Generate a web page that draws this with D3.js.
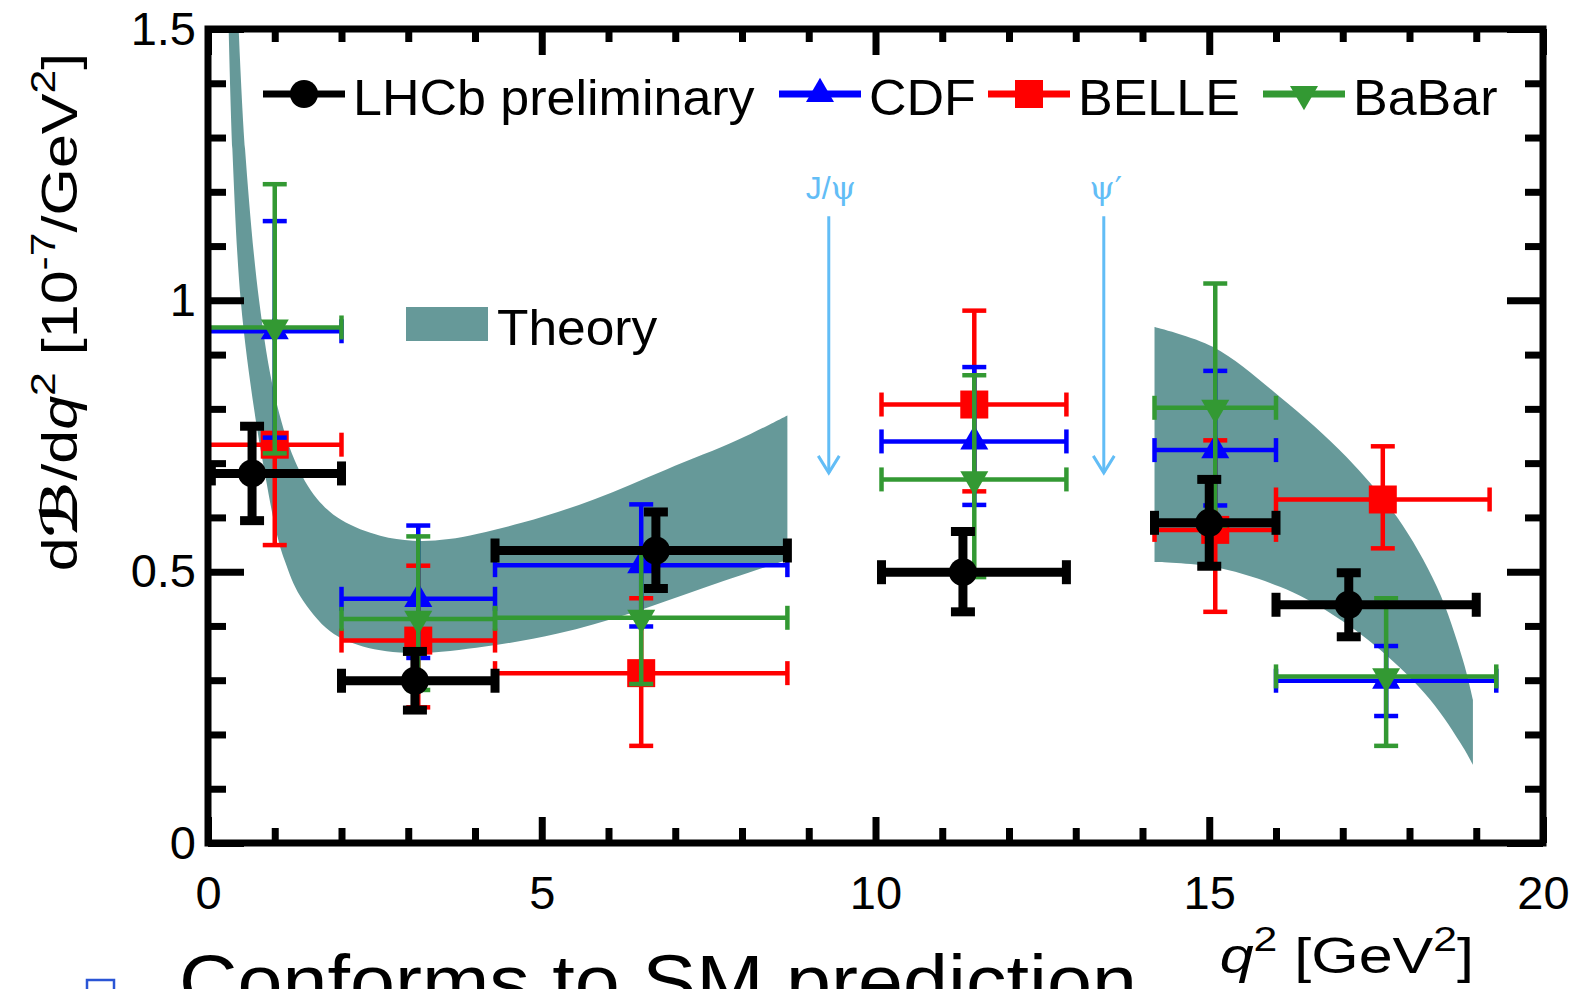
<!DOCTYPE html>
<html>
<head>
<meta charset="utf-8">
<script src="https://cdn.jsdelivr.net/npm/d3@7"></script>
<style>
  body { margin: 0; background: #fff; }
  svg text { font-family: "Liberation Sans", Arial, Helvetica, sans-serif; }
</style>
</head>
<body>
<div id="chart"></div>
<script>
// dB/dq^2 [1e-7/GeV^2] per q^2 bin

// LHCb preliminary
const lhcbQ     = [0.66, 3.10, 6.71, 11.31, 15.00, 17.09];
const lhcbQLow  = [0.05, 2.00, 4.30, 10.09, 14.18, 16.00];
const lhcbQHigh = [2.00, 4.30, 8.68, 12.86, 16.00, 19.00];
const lhcbValue = [0.681, 0.299, 0.539, 0.499, 0.590, 0.439];
const lhcbErrUp = [0.087, 0.054, 0.071, 0.075, 0.080, 0.059];
const lhcbErrDn = [0.087, 0.054, 0.070, 0.073, 0.080, 0.059];

// CDF
const cdfQ     = [1.00, 3.15, 6.49, 11.48, 15.09, 17.65];
const cdfQLow  = [0.00, 2.00, 4.30, 10.09, 14.18, 16.00];
const cdfQHigh = [2.00, 4.30, 8.68, 12.86, 16.00, 19.30];
const cdfValue = [0.943, 0.450, 0.512, 0.740, 0.724, 0.299];
const cdfErrUp = [0.203, 0.135, 0.112, 0.137, 0.146, 0.064];
const cdfErrDn = [0.196, 0.109, 0.113, 0.117, 0.102, 0.065];

// BELLE
const belleQ     = [1.00, 3.15, 6.49, 11.48, 15.09, 17.60];
const belleQLow  = [0.00, 2.00, 4.30, 10.09, 14.18, 16.00];
const belleQHigh = [2.00, 4.30, 8.68, 12.86, 16.00, 19.20];
const belleValue = [0.734, 0.373, 0.313, 0.808, 0.577, 0.633];
const belleErrUp = [0.012, 0.138, 0.138, 0.173, 0.165, 0.098];
const belleErrDn = [0.185, 0.123, 0.134, 0.160, 0.151, 0.090];

// BaBar
const babarQ     = [1.00, 3.15, 6.49, 11.48, 15.09, 17.65];
const babarQLow  = [0.00, 2.00, 4.30, 10.09, 14.18, 16.00];
const babarQHigh = [2.00, 4.30, 8.68, 12.86, 16.00, 19.30];
const babarValue = [0.950, 0.413, 0.415, 0.670, 0.802, 0.307];
const babarErrUp = [0.264, 0.152, 0.125, 0.192, 0.229, 0.144];
const babarErrDn = [0.232, 0.131, 0.122, 0.180, 0.217, 0.128];

// SM theory band, low q^2 region (upper and lower edges)
const lowBandUpperQ = [0.46, 0.555, 0.765, 1.00, 1.30, 1.63, 2.00, 2.58, 3.07, 3.61, 4.70, 5.78, 6.86, 7.94, 8.68];
const lowBandUpper  = [1.50, 1.279, 1.000, 0.825, 0.705, 0.635, 0.595, 0.566, 0.557, 0.560, 0.590, 0.633, 0.688, 0.743, 0.788];
const lowBandLowerQ = [0.31, 0.365, 0.49, 0.69, 0.854, 1.02, 1.15, 1.38, 1.83, 2.32, 3.07, 4.15, 5.24, 6.32, 7.40, 8.68];
const lowBandLower  = [1.50, 1.279, 1.00, 0.80, 0.680, 0.575, 0.520, 0.455, 0.390, 0.362, 0.350, 0.362, 0.386, 0.423, 0.469, 0.522];

// SM theory band, high q^2 region
const highBandUpperQ = [14.18, 15.06, 16.06, 17.06, 17.81, 18.41, 18.80, 18.95];
const highBandUpper  = [0.951, 0.914, 0.822, 0.711, 0.601, 0.472, 0.337, 0.264];
const highBandLowerQ = [14.18, 15.06, 16.06, 16.81, 17.56, 18.31, 18.80, 18.95];
const highBandLower  = [0.518, 0.509, 0.472, 0.424, 0.356, 0.264, 0.177, 0.144];

// charmonium vetoes
const resonanceLabels = ["J/\u03c8", "\u03c8\u2032"];
const resonanceQ      = [9.30, 13.42];
const arrowFrom = 1.155;
const arrowTo   = 0.682;
const resonanceLabelY = 1.187;

// axis ticks
const xMajorTicks = [0, 5, 10, 15, 20];
const xMinorTicks = d3.range(0, 21).filter((v) => v % 5 !== 0);
const yMajorTicks = [0, 0.5, 1, 1.5];
const yMinorTicks = d3.range(1, 15).filter((v) => v % 5 !== 0).map((v) => v / 10);

const legendNames = ["LHCb preliminary", "CDF", "BELLE", "BaBar"];

class BranchingChart {
  constructor(_config) {
    this.config = {
      parentElement: _config.parentElement,
      width: 1578,
      height: 989,
      plot: { left: 208, right: 1543, top: 29, bottom: 843 }
    };
    this.initVis();
  }

  initVis() {
    const vis = this;
    const p = vis.config.plot;

    vis.svg = d3.select(vis.config.parentElement)
      .append("svg")
      .attr("width", vis.config.width)
      .attr("height", vis.config.height);

    vis.xScale = d3.scaleLinear().domain([0, 20]).range([p.left, p.right]);
    vis.yScale = d3.scaleLinear().domain([0, 1.5]).range([p.bottom, p.top]);

    vis.svg.append("clipPath")
      .attr("id", "plot-clip")
      .append("rect")
      .attr("x", p.left)
      .attr("y", p.top)
      .attr("width", p.right - p.left)
      .attr("height", p.bottom - p.top);

    vis.chart = vis.svg.append("g").attr("clip-path", "url(#plot-clip)");

    vis.styles = {
      "LHCb preliminary": { color: "#000000", symbol: "circle", width: 9 },
      "CDF": { color: "#0000ff", symbol: "up", width: 4.5 },
      "BELLE": { color: "#ff0000", symbol: "square", width: 4.5 },
      "BaBar": { color: "#339933", symbol: "down", width: 4.5 }
    };

    vis.series = [
      { name: "BELLE", q: belleQ, lo: belleQLow, hi: belleQHigh, v: belleValue, up: belleErrUp, dn: belleErrDn },
      { name: "CDF", q: cdfQ, lo: cdfQLow, hi: cdfQHigh, v: cdfValue, up: cdfErrUp, dn: cdfErrDn },
      { name: "BaBar", q: babarQ, lo: babarQLow, hi: babarQHigh, v: babarValue, up: babarErrUp, dn: babarErrDn },
      { name: "LHCb preliminary", q: lhcbQ, lo: lhcbQLow, hi: lhcbQHigh, v: lhcbValue, up: lhcbErrUp, dn: lhcbErrDn }
    ];

    vis.updateVis();
  }

  markerPath(kind) {
    if (kind === "circle") return d3.symbol(d3.symbolCircle, Math.PI * 14 * 14)();
    if (kind === "square") return d3.symbol(d3.symbolSquare, 28 * 28)();
    return d3.symbol(d3.symbolTriangle, 340)();
  }

  drawMarker(g, kind, cx, cy, color) {
    g.append("path")
      .attr("d", this.markerPath(kind))
      .attr("transform", `translate(${cx},${cy})` + (kind === "down" ? " rotate(180)" : ""))
      .attr("fill", color);
  }

  updateVis() {
    const vis = this;
    const x = vis.xScale;
    const y = vis.yScale;
    const p = vis.config.plot;

    // Theory bands
    const edge = d3.line()
      .x((d) => x(d[0]))
      .y((d) => y(d[1]))
      .curve(d3.curveCatmullRom.alpha(0.5));
    const band = (qU, vU, qL, vL) =>
      edge(d3.zip(qU, vU)) + "L" + edge(d3.zip(qL, vL).reverse()).slice(1) + "Z";

    vis.chart.append("path")
      .attr("class", "theory-band")
      .attr("d", band(lowBandUpperQ, lowBandUpper, lowBandLowerQ, lowBandLower))
      .attr("fill", "#669999");
    vis.chart.append("path")
      .attr("class", "theory-band")
      .attr("d", band(highBandUpperQ, highBandUpper, highBandLowerQ, highBandLower))
      .attr("fill", "#669999");

    // J/psi and psi' arrows
    const arrowColor = "#62bdf6";
    const arrows = vis.svg.append("g").attr("stroke", arrowColor).attr("fill", "none").attr("stroke-width", 3);
    resonanceQ.forEach((q, i) => {
      const ax = x(q);
      arrows.append("line")
        .attr("x1", ax).attr("x2", ax)
        .attr("y1", y(arrowFrom)).attr("y2", y(arrowTo));
      arrows.append("path")
        .attr("d", `M${ax - 10.5},${y(arrowTo) - 17}L${ax},${y(arrowTo)}L${ax + 10.5},${y(arrowTo) - 17}`);
      const label = vis.svg.append("text")
        .attr("x", ax + 2)
        .attr("y", y(resonanceLabelY))
        .attr("text-anchor", "middle")
        .attr("font-size", 32)
        .attr("fill", arrowColor);
      // greek letters in a serif face, like the original
      resonanceLabels[i].split(/([\u03c8\u2032])/).filter((s) => s).forEach((part) => {
        const t = label.append("tspan").text(part);
        if (part === "\u03c8") t.attr("font-family", "DejaVu Serif, Liberation Serif, serif");
        if (part === "\u2032") t.attr("font-family", "DejaVu Sans, sans-serif");
      });
    });

    // Data points with error bars
    const cap = 12;
    vis.series.forEach((s) => {
      const st = vis.styles[s.name];
      const g = vis.chart.append("g")
        .attr("class", "series")
        .attr("stroke", st.color)
        .attr("stroke-width", st.width);
      s.q.forEach((q, i) => {
        const cx = x(q);
        const cy = y(s.v[i]);
        const xl = x(s.lo[i]);
        const xr = x(s.hi[i]);
        const yt = y(s.v[i] + s.up[i]);
        const yb = y(s.v[i] - s.dn[i]);
        g.append("line").attr("x1", xl).attr("x2", xr).attr("y1", cy).attr("y2", cy);
        g.append("line").attr("x1", cx).attr("x2", cx).attr("y1", yt).attr("y2", yb);
        g.append("line").attr("x1", xl).attr("x2", xl).attr("y1", cy - cap).attr("y2", cy + cap);
        g.append("line").attr("x1", xr).attr("x2", xr).attr("y1", cy - cap).attr("y2", cy + cap);
        g.append("line").attr("x1", cx - cap).attr("x2", cx + cap).attr("y1", yt).attr("y2", yt);
        g.append("line").attr("x1", cx - cap).attr("x2", cx + cap).attr("y1", yb).attr("y2", yb);
        vis.drawMarker(g.append("g").attr("stroke", "none"), st.symbol, cx, cy, st.color);
      });
    });

    // Axes, ticks pointing inward on all four sides
    const styleAxis = (g, w) => {
      g.select(".domain").remove();
      g.selectAll("line").attr("stroke-width", w);
      g.attr("font-size", 47).attr("font-family", "Liberation Sans, Arial, sans-serif");
    };
    const noLabel = () => "";

    vis.svg.append("g").attr("transform", `translate(0,${p.bottom})`)
      .call(d3.axisBottom(x).tickValues(xMajorTicks).tickSize(-26).tickPadding(33).tickFormat((d) => String(d)))
      .call((g) => styleAxis(g, 7));
    vis.svg.append("g").attr("transform", `translate(0,${p.bottom})`)
      .call(d3.axisBottom(x).tickValues(xMinorTicks).tickSize(-15).tickFormat(noLabel))
      .call((g) => styleAxis(g, 7));
    vis.svg.append("g").attr("transform", `translate(0,${p.top})`)
      .call(d3.axisTop(x).tickValues(xMajorTicks).tickSize(-26).tickFormat(noLabel))
      .call((g) => styleAxis(g, 7));
    vis.svg.append("g").attr("transform", `translate(0,${p.top})`)
      .call(d3.axisTop(x).tickValues(xMinorTicks).tickSize(-13).tickFormat(noLabel))
      .call((g) => styleAxis(g, 7));

    vis.svg.append("g").attr("transform", `translate(${p.left},0)`)
      .call(d3.axisLeft(y).tickValues(yMajorTicks).tickSize(-36).tickPadding(12).tickFormat((d) => String(d)))
      .call((g) => styleAxis(g, 7));
    vis.svg.append("g").attr("transform", `translate(${p.left},0)`)
      .call(d3.axisLeft(y).tickValues(yMinorTicks).tickSize(-18).tickFormat(noLabel))
      .call((g) => styleAxis(g, 7));
    vis.svg.append("g").attr("transform", `translate(${p.right},0)`)
      .call(d3.axisRight(y).tickValues(yMajorTicks).tickSize(-36).tickFormat(noLabel))
      .call((g) => styleAxis(g, 7));
    vis.svg.append("g").attr("transform", `translate(${p.right},0)`)
      .call(d3.axisRight(y).tickValues(yMinorTicks).tickSize(-18).tickFormat(noLabel))
      .call((g) => styleAxis(g, 7));

    // Frame
    vis.svg.append("rect")
      .attr("x", p.left).attr("y", p.top)
      .attr("width", p.right - p.left).attr("height", p.bottom - p.top)
      .attr("fill", "none").attr("stroke", "#000").attr("stroke-width", 7);

    // Axis titles
    const yTitle = vis.svg.append("text")
      .attr("transform", "translate(77,312) rotate(-90) scale(1.22,1)")
      .attr("text-anchor", "middle")
      .attr("font-size", 50);
    yTitle.append("tspan").text("d");
    yTitle.append("tspan").attr("font-family", "DejaVu Serif, DejaVu Sans, serif").attr("font-weight", "bold").attr("font-style", "italic").text("\u212c");
    yTitle.append("tspan").text("/d");
    yTitle.append("tspan").attr("font-style", "italic").text("q");
    yTitle.append("tspan").attr("font-size", 35).attr("dy", -22).text("2");
    yTitle.append("tspan").attr("dy", 22).text(" [10");
    yTitle.append("tspan").attr("font-size", 35).attr("dy", -22).text("-7");
    yTitle.append("tspan").attr("dy", 22).text("/GeV");
    yTitle.append("tspan").attr("font-size", 35).attr("dy", -22).text("2");
    yTitle.append("tspan").attr("dy", 22).text("]");

    const xTitle = vis.svg.append("text")
      .attr("transform", "translate(1474,973) scale(1.22,1)")
      .attr("text-anchor", "end")
      .attr("font-size", 50);
    xTitle.append("tspan").attr("font-style", "italic").text("q");
    xTitle.append("tspan").attr("font-size", 35).attr("dy", -22).text("2");
    xTitle.append("tspan").attr("dy", 22).text(" [GeV");
    xTitle.append("tspan").attr("font-size", 35).attr("dy", -22).text("2");
    xTitle.append("tspan").attr("dy", 22).text("]");

    // Legend
    const legendX = [263, 779, 988, 1263];
    const legendY = 94;
    legendNames.forEach((name, i) => {
      const st = vis.styles[name];
      const lg = vis.svg.append("g").attr("class", "legend-item");
      lg.append("line")
        .attr("x1", legendX[i]).attr("x2", legendX[i] + 82)
        .attr("y1", legendY).attr("y2", legendY)
        .attr("stroke", st.color).attr("stroke-width", 7);
      vis.drawMarker(lg, st.symbol, legendX[i] + 41, legendY, st.color);
      lg.append("text")
        .attr("transform", `translate(${legendX[i] + 90},${legendY + 21}) scale(1.04,1)`)
        .attr("font-size", 50)
        .attr("fill", "#000")
        .text(name);
    });

    vis.svg.append("rect")
      .attr("x", 406).attr("y", 307)
      .attr("width", 82).attr("height", 34)
      .attr("fill", "#669999");
    vis.svg.append("text")
      .attr("transform", "translate(497,345) scale(1.03,1)")
      .attr("font-size", 50)
      .text("Theory");

    // Slide text below the plot (cut by the page edge, as in the original)
    vis.svg.append("rect")
      .attr("x", 87).attr("y", 980)
      .attr("width", 27).attr("height", 27)
      .attr("fill", "none").attr("stroke", "#2a55d5").attr("stroke-width", 2.5);
    vis.svg.append("text")
      .attr("x", 179).attr("y", 1007)
      .attr("font-size", 74)
      .attr("font-family", "'Comic Sans MS', 'Comic Neue', 'DejaVu Sans', sans-serif")
      .attr("textLength", 958)
      .attr("lengthAdjust", "spacingAndGlyphs")
      .text("Conforms to SM prediction");
  }
}

const chart = new BranchingChart({ parentElement: "#chart" });
</script>
</body>
</html>
